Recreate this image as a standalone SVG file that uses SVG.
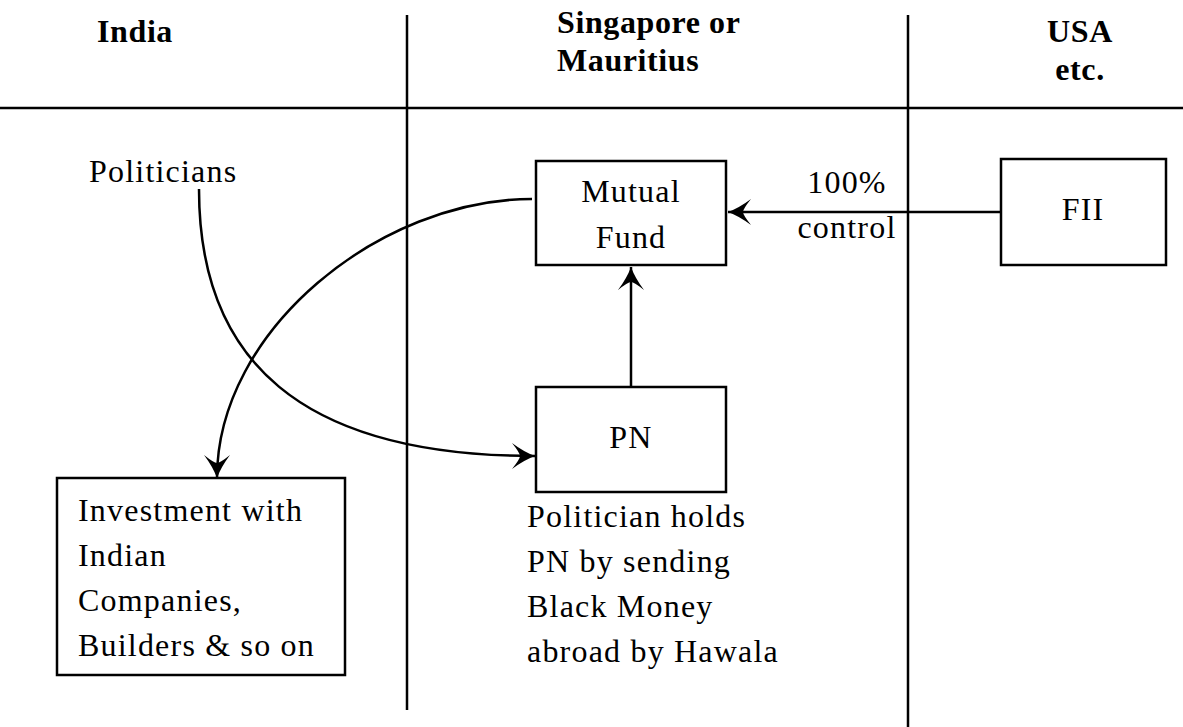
<svg xmlns="http://www.w3.org/2000/svg" width="1183" height="727" viewBox="0 0 1183 727">
<style>
  text { font-family: "Liberation Serif", "Times New Roman", serif; font-size: 32px; fill: #000; letter-spacing: 1.2px; }
  .h { font-weight: bold; letter-spacing: 0.6px; }
  .c { text-anchor: middle; }
  .box { fill: #fff; stroke: #000; stroke-width: 2.5; }
  .ln { fill: none; stroke: #000; stroke-width: 2.5; }
</style>
<defs>
  <marker id="arr" markerUnits="userSpaceOnUse" markerWidth="30" markerHeight="30" viewBox="-26 -15 30 30" refX="0" refY="0" orient="auto">
    <path d="M0,0 Q-11,-4 -23,-13 Q-15,-3 -15,0 Q-15,3 -23,13 Q-11,4 0,0 Z" fill="#000"/>
  </marker>
</defs>
<rect width="1183" height="727" fill="#fff"/>
<g id="grid">
  <line class="ln" x1="0" y1="108" x2="1183" y2="108"/>
  <line class="ln" x1="407" y1="15" x2="407" y2="710"/>
  <line class="ln" x1="908" y1="15" x2="908" y2="727"/>
</g>
<g id="headers">
  <text class="h c" x="135" y="42">India</text>
  <text class="h" x="557" y="33">Singapore or</text>
  <text class="h" x="557" y="71">Mauritius</text>
  <text class="h c" x="1080" y="42">USA</text>
  <text class="h c" x="1080" y="80">etc.</text>
</g>
<g id="politicians">
  <text x="89" y="182">Politicians</text>
</g>
<g id="mutual-fund">
  <rect class="box" x="536" y="161" width="190" height="104"/>
  <text class="c" x="631" y="202">Mutual</text>
  <text class="c" x="631" y="248">Fund</text>
</g>
<g id="fii">
  <rect class="box" x="1001" y="159" width="165" height="106"/>
  <text class="c" x="1083" y="220">FII</text>
</g>
<g id="pn">
  <rect class="box" x="536" y="387" width="190" height="105"/>
  <text class="c" x="631" y="448">PN</text>
</g>
<g id="pn-caption">
  <text x="527" y="527">Politician holds</text>
  <text x="527" y="572">PN by sending</text>
  <text x="527" y="617">Black Money</text>
  <text x="527" y="662">abroad by Hawala</text>
</g>
<g id="investment">
  <rect class="box" x="57" y="478" width="288" height="197"/>
  <text x="78" y="521">Investment with</text>
  <text x="78" y="566">Indian</text>
  <text x="78" y="611">Companies,</text>
  <text x="78" y="656">Builders &amp; so on</text>
</g>
<g id="connectors">
  <line class="ln" x1="1001" y1="212" x2="728" y2="212" marker-end="url(#arr)"/>
  <line class="ln" x1="631" y1="387" x2="631" y2="267" marker-end="url(#arr)"/>
  <path class="ln" d="M199,189 C199,360 300,456 535,456" marker-end="url(#arr)"/>
  <path class="ln" d="M532,199 C380,199 217,330 217,478" marker-end="url(#arr)"/>
  <text class="c" x="847" y="193">100%</text>
  <text class="c" x="847" y="238">control</text>
</g>
</svg>
